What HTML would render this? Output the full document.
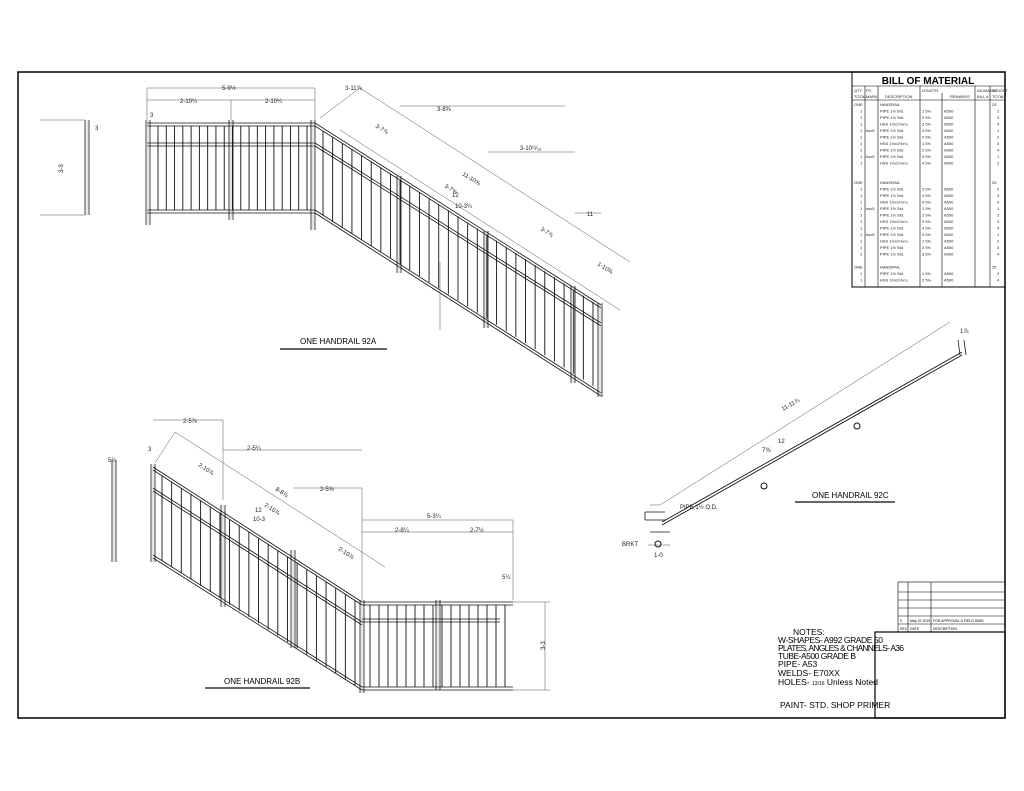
<!DOCTYPE html>
<html><head><meta charset="utf-8"><style>
html,body{margin:0;padding:0;background:#fff;}
svg{display:block;font-family:"Liberation Sans",sans-serif;}
.t{font-size:6px;fill:#222;}
</style></head><body>
<svg id="s" width="1024" height="791" viewBox="0 0 1024 791" xmlns="http://www.w3.org/2000/svg">
<rect x="18" y="72" width="987" height="646" fill="none" stroke="#000" stroke-width="1.5"/>
<g stroke="#000" stroke-width="0.6" fill="none">
<rect x="852" y="72" width="153" height="215" stroke-width="1"/>
<line x1="852" y1="86" x2="1005" y2="86"/>
<line x1="852" y1="100" x2="1005" y2="100"/>
<line x1="865" y1="86" x2="865" y2="287"/><line x1="878" y1="86" x2="878" y2="287"/>
<line x1="920" y1="86" x2="920" y2="287"/><line x1="942" y1="93" x2="942" y2="287"/>
<line x1="975" y1="86" x2="975" y2="287"/><line x1="990" y1="86" x2="990" y2="287"/>
</g>
<text x="928" y="84" font-size="10" font-weight="bold" text-anchor="middle">BILL OF MATERIAL</text>
<g font-size="4" fill="#222">
<text x="854" y="92">QTY</text><text x="866" y="92">PC</text><text x="922" y="92">LENGTH</text><text x="977" y="92">ADVANCE</text><text x="992" y="92">WEIGHT</text>
<text x="854" y="98">TOTAL</text><text x="866" y="98">MARK</text><text x="885" y="98">DESCRIPTION</text><text x="950" y="98">REMARKS</text><text x="977" y="98">BILL #</text><text x="992" y="98">TOTAL</text>
</g>
<g font-size="4" fill="#222" id="bom"></g>
<g stroke="#000" stroke-width="0.6" fill="none">
<rect x="898" y="582" width="107" height="50"/>
<line x1="908" y1="582" x2="908" y2="632"/><line x1="931" y1="582" x2="931" y2="632"/>
<line x1="898" y1="592" x2="1005" y2="592"/><line x1="898" y1="600" x2="1005" y2="600"/>
<line x1="898" y1="608" x2="1005" y2="608"/><line x1="898" y1="616" x2="1005" y2="616"/>
<line x1="898" y1="624" x2="1005" y2="624"/>
<rect x="875" y="632" width="130" height="86" stroke-width="1.2"/>
</g>
<text x="900" y="622" font-size="3.5">0</text><text x="910" y="622" font-size="3.5">May 22 2019</text><text x="933" y="622" font-size="3.5">FOR APPROVAL &amp; FIELD DIMS</text>
<text x="900" y="630" font-size="3.5">REV</text><text x="910" y="630" font-size="3.5">DATE</text><text x="933" y="630" font-size="3.5">DESCRIPTION</text>
<g font-size="8.5" font-family="Liberation Sans Narrow,Liberation Sans,sans-serif">
<text x="793" y="635">NOTES:</text>
<text x="778" y="643" textLength="105">W-SHAPES- A992 GRADE 50</text>
<text x="778" y="651" textLength="126">PLATES, ANGLES &amp; CHANNELS- A36</text>
<text x="778" y="659" textLength="78">TUBE-A500 GRADE B</text>
<text x="778" y="667">PIPE- A53</text>
<text x="778" y="676">WELDS- E70XX</text>
<text x="778" y="685">HOLES- <tspan font-size="5">13/16</tspan> Unless Noted</text>
<text x="780" y="708">PAINT- STD. SHOP PRIMER</text>
</g>
<text x="300" y="344" font-size="8">ONE HANDRAIL 92A</text><line x1="280" y1="349" x2="387" y2="349" stroke="#333" stroke-width="1.5"/>
<text x="224" y="684" font-size="8">ONE HANDRAIL 92B</text><line x1="205" y1="688" x2="310" y2="688" stroke="#333" stroke-width="1.5"/>
<text x="812" y="498" font-size="8">ONE HANDRAIL 92C</text><line x1="795" y1="502" x2="895" y2="502" stroke="#333" stroke-width="1.5"/>
<g id="g"></g>
<g class="t">
<text x="222" y="90">5-9½</text><text x="180" y="103">2-10¼</text><text x="265" y="103">2-10¼</text>
<text x="345" y="90">3-11⅞</text><text x="437" y="111">3-8⅝</text><text x="520" y="150">3-10¹¹⁄₁₆</text>
<text x="587" y="216">11</text><text x="150" y="117">3</text><text x="95" y="130">3</text>
<text x="60" y="170" transform="rotate(-90 63 170)">3-3</text>
<text x="452" y="197">12</text><text x="455" y="208">10-3¼</text>
<text x="375" y="127" transform="rotate(32 375 127)">3-7⅞</text>
<text x="462" y="175" transform="rotate(32 462 175)">11-10⅝</text>
<text x="444" y="187" transform="rotate(32 444 187)">3-7⅝</text>
<text x="540" y="230" transform="rotate(32 540 230)">3-7⅞</text>
<text x="597" y="265" transform="rotate(32 597 265)">1-10⅜</text>
<text x="183" y="423">2-5⅞</text><text x="247" y="450">2-5¼</text><text x="320" y="491">2-5⅝</text>
<text x="427" y="518">5-3¼</text><text x="395" y="532">2-8¼</text><text x="470" y="532">2-7½</text>
<text x="108" y="462">5¼</text><text x="148" y="451">3</text><text x="502" y="579">5¼</text>
<text x="198" y="466" transform="rotate(33 198 466)">2-10⅞</text>
<text x="275" y="490" transform="rotate(33 275 490)">8-8⅞</text>
<text x="264" y="506" transform="rotate(33 264 506)">2-10⅞</text>
<text x="338" y="550" transform="rotate(33 338 550)">2-10⅞</text>
<text x="255" y="512">12</text><text x="253" y="521">10-3</text>
<text x="545" y="650" transform="rotate(-90 545 650)">3-3</text>
<text x="783" y="411" transform="rotate(-30 783 411)">11-11⅞</text>
<text x="778" y="443">12</text><text x="762" y="452">7⅜</text>
<text x="960" y="333">1⅞</text><text x="680" y="509">PIPE 1½ O.D.</text><text x="622" y="546">BRKT</text><text x="654" y="557">1-0</text>
</g>
</svg>
<script>
var g=document.getElementById('g'),N='http://www.w3.org/2000/svg';
function L(x1,y1,x2,y2,w,c){var l=document.createElementNS(N,'line');l.setAttribute('x1',x1);l.setAttribute('y1',y1);l.setAttribute('x2',x2);l.setAttribute('y2',y2);l.setAttribute('stroke',c||'#111');l.setAttribute('stroke-width',w||0.8);g.appendChild(l);}
function rail(x1,y1,x2,y2){L(x1,y1,x2,y2,0.8);L(x1,y1+3,x2,y2+3,0.8);}
function post(x,y1,y2){L(x,y1,x,y2,0.8);L(x+4,y1,x+4,y2,0.8);L(x+2,y1,x+2,y2,0.5,'#999');}
function bal(xa,xb,n,ft,fb){for(var i=0;i<n;i++){var x=xa+(xb-xa)*i/(n-1);L(x,ft(x),x,fb(x),0.9);}}
rail(147,123,315,123);rail(147,143,315,143);rail(147,210,315,210);
post(146,120,225);post(229,120,220);post(311,120,230);post(85,120,215);
bal(158,307,19,function(){return 126},function(){return 210});
var s=0.632;rail(315,123,601,305);rail(315,143,601,323);rail(315,210,601,393);
bal(323,593,29,function(x){return 126+(x-315)*s},function(x){return 210+(x-315)*s});
post(397,176,273);post(484,231,328);post(571,286,383);post(598,303,397);
[[147,88,315,88],[147,100,315,100],[315,88,315,122],[147,88,147,120],[231,100,231,120],[400,106,565,106],[488,152,575,152],[575,213,601,213],[40,120,85,120],[40,215,85,215],[440,262,440,330]].forEach(function(a){L(a[0],a[1],a[2],a[3],0.5,'#555')});
L(320,118,360,88,0.5,'#555');L(360,88,630,262,0.5,'#555');L(340,130,620,310,0.5,'#555');
var s2=0.646;rail(153,467,362,602);rail(153,488,362,622);rail(153,555,362,687);
bal(162,355,21,function(x){return 470+(x-153)*s2},function(x){return 555+(x-153)*s2});
post(151,464,562);post(221,505,607);post(291,550,648);post(360,600,693);
rail(362,602,513,602);rail(362,619,500,619);rail(362,687,513,687);
bal(370,505,16,function(){return 605},function(){return 687});
post(436,600,690);post(112,460,562);
[[153,420,223,420],[223,450,362,450],[293,488,362,488],[362,520,513,520],[362,532,513,532],[513,520,513,600],[362,488,362,600],[223,420,223,500],[545,602,545,690],[513,602,550,602],[513,690,550,690]].forEach(function(a){L(a[0],a[1],a[2],a[3],0.5,'#555')});
L(155,463,175,432,0.5,'#555');L(175,432,385,567,0.5,'#555');
L(662,522,962,352,0.9);L(662,525,962,355,0.9);L(958,340,960,355,0.8);L(964,340,966,355,0.8);
L(650,532,670,532,0.8);L(645,512,665,512,0.8);L(645,520,665,520,0.8);L(645,512,645,520,0.8);
L(648,545,670,545,0.5,'#555');L(650,505,660,505,0.5,'#555');L(660,505,950,322,0.5,'#555');
var c=document.createElementNS(N,'circle');c.setAttribute('cx',857);c.setAttribute('cy',426);c.setAttribute('r',3);c.setAttribute('fill','none');c.setAttribute('stroke','#111');g.appendChild(c);
c=c.cloneNode();c.setAttribute('cx',764);c.setAttribute('cy',486);g.appendChild(c);
c=c.cloneNode();c.setAttribute('cx',658);c.setAttribute('cy',544);g.appendChild(c);
var b=document.getElementById('bom');
function T(x,y,s){var t=document.createElementNS(N,'text');t.setAttribute('x',x);t.setAttribute('y',y);t.textContent=s;b.appendChild(t);}
for(var i=0;i<28;i++){var y=106+i*6.5;if(i==10||i==11||i==24)continue;
if(i==0||i==12||i==25){T(854,y,'ONE');T(880,y,'HANDRAIL');T(992,y,'25');continue;}
T(860,y,'1');T(866,y,i%4==0?'hsc5':'');T(880,y,i%3==0?'HSS 1½x1½x¼':'PIPE 1½ Std.');T(922,y,(i%5)+'  5⅜');T(944,y,'A500');T(997,y,''+(i%4+1));}
</script>
</body></html>
